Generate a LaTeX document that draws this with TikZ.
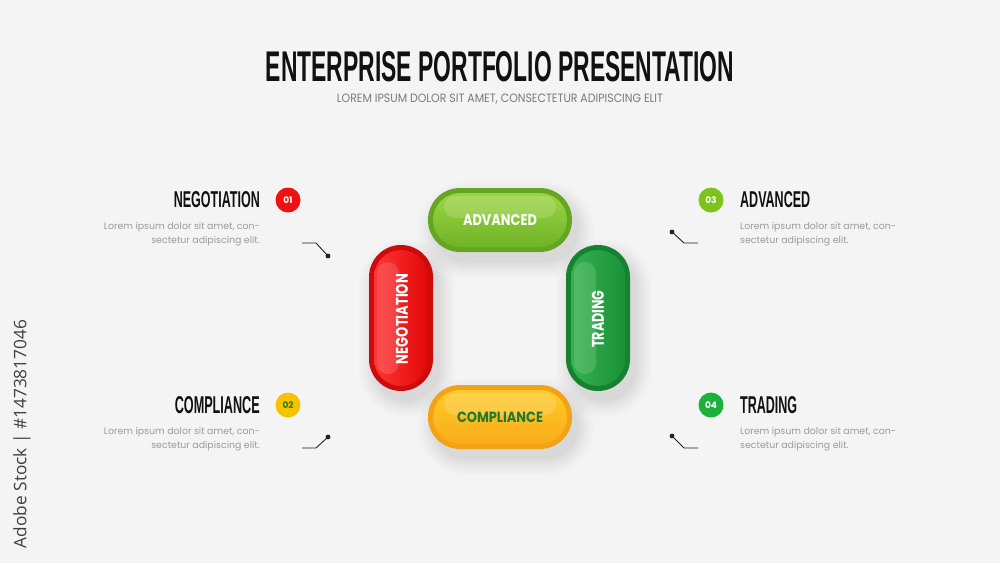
\documentclass[tikz,border=0pt]{standalone}
\usepackage{fontspec}
\usepackage{graphicx}
\setmainfont{Poppins}
\newfontfamily\headfont{Liberation Sans}
\newfontfamily\markfont{Open Sans}
\definecolor{bgc}{HTML}{F4F4F4}
\definecolor{subgray}{HTML}{7A7A7A}
\definecolor{bodygray}{HTML}{9A9A9A}
\definecolor{ink}{HTML}{111111}
\definecolor{conncol}{HTML}{222222}
% pill colours
\definecolor{advEdge}{HTML}{64A622}
\definecolor{advLight}{HTML}{9CD444}
\definecolor{advMain}{HTML}{6FB526}
\definecolor{trdEdge}{HTML}{168230}
\definecolor{trdLight}{HTML}{35B14E}
\definecolor{trdMain}{HTML}{1A9138}
\definecolor{negEdge}{HTML}{CC0C0C}
\definecolor{negLight}{HTML}{FF3535}
\definecolor{negMain}{HTML}{E20808}
\definecolor{cmpEdge}{HTML}{F2A214}
\definecolor{cmpLight}{HTML}{FFCB2A}
\definecolor{cmpMain}{HTML}{F9AC1A}
\definecolor{cmpText}{HTML}{1E7A2E}
% badge colours
\definecolor{badgeA}{HTML}{EE1111}
\definecolor{badgeB}{HTML}{F7C200}
\definecolor{badgeBtext}{HTML}{2F7A1A}
\definecolor{badgeC}{HTML}{7CC41C}
\definecolor{badgeD}{HTML}{1BB23C}
\newcommand\fitbox[3]{\resizebox{#1}{#2}{#3}}
% horizontal pill: cx cy edge light main
\newcommand\hpill[5]{%
  \foreach \s/\o in {16/0.012,13/0.014,10/0.016,7/0.018,4/0.02,1/0.022}{%
    \pgfmathsetmacro\rr{32+\s}%
    \fill[black,opacity=\o,rounded corners=\rr pt] (#1-72-\s+6,#2-32-\s+10) rectangle (#1+72+\s+6,#2+32+\s+10);}
  \fill[#3,rounded corners=32pt] (#1-72,#2-32) rectangle (#1+72,#2+32);
  \shade[top color=#4,bottom color=#5,rounded corners=27pt] (#1-67,#2-27) rectangle (#1+67,#2+27);
  \fill[white,opacity=0.16,rounded corners=11pt] (#1-56,#2-24) rectangle (#1+56,#2-2);
}
% vertical pill: cx cy edge light main
\newcommand\vpill[5]{%
  \foreach \s/\o in {16/0.012,13/0.014,10/0.016,7/0.018,4/0.02,1/0.022}{%
    \pgfmathsetmacro\rr{32+\s}%
    \fill[black,opacity=\o,rounded corners=\rr pt] (#1-32-\s+6,#2-73-\s+10) rectangle (#1+32+\s+6,#2+73+\s+10);}
  \fill[#3,rounded corners=32pt] (#1-32,#2-73) rectangle (#1+32,#2+73);
  \shade[left color=#4,right color=#5,rounded corners=27pt] (#1-27,#2-68) rectangle (#1+27,#2+68);
  \fill[white,opacity=0.14,rounded corners=11pt] (#1-24,#2-56) rectangle (#1-2,#2+56);
}
\tikzset{
  heading/.style={inner sep=0pt,text=ink,font=\headfont\bfseries},
  body/.style={inner sep=0pt,text=bodygray,font=\fontsize{9.4}{14}\selectfont},
  badge/.style={circle,inner sep=0pt,minimum size=25pt,text=white,font=\bfseries\fontsize{9}{10}\selectfont},
  pilltext/.style={inner sep=0pt,text=white,font=\bfseries},
  conn/.style={draw=conncol,line width=0.9pt},
  dot/.style={fill=conncol}
}
\begin{document}
\begin{tikzpicture}[x=1pt,y=-1pt]
\useasboundingbox (0,0) rectangle (1000,563);
\fill[bgc] (0,0) rectangle (1000,563);

% title
\node[heading,anchor=south] (title) at (500,82) {\fitbox{468pt}{30pt}{ENTERPRISE PORTFOLIO PRESENTATION}};
\node[inner sep=0pt,anchor=south,text=subgray] (subtitle) at (500,104) {\fitbox{326pt}{8.5pt}{LOREM IPSUM DOLOR SIT AMET, CONSECTETUR ADIPISCING ELIT}};

% side watermark
\node[rotate=90,inner sep=0pt,text=black!75,font=\markfont] (mark) at (22,434) {\resizebox{228pt}{!}{Adobe Stock | \#1473817046}};

% pills
\hpill{500}{220}{advEdge}{advLight}{advMain}
\vpill{598}{318}{trdEdge}{trdLight}{trdMain}
\vpill{401}{318}{negEdge}{negLight}{negMain}
\hpill{500}{417}{cmpEdge}{cmpLight}{cmpMain}

\node[pilltext] (padv) at (500,220) {\fitbox{74pt}{11pt}{ADVANCED}};
\node[pilltext,text=cmpText] (pcmp) at (500,417) {\fitbox{86pt}{10.5pt}{COMPLIANCE}};
\node[pilltext,rotate=90] (pneg) at (402,319) {\fitbox{90pt}{12pt}{NEGOTIATION}};
\node[pilltext,rotate=90] (ptrd) at (598,319) {\fitbox{57pt}{12pt}{TRADING}};

% left top: negotiation
\node[heading,anchor=south east] (h1) at (260,208) {\fitbox{86pt}{16pt}{NEGOTIATION}};
\node[badge,fill=badgeA] (b1) at (288,200) {01};
\node[body,anchor=north east,align=right] (t1) at (260,222) {Lorem ipsum dolor sit amet, con-\\sectetur adipiscing elit.};
\coordinate (l1a) at (302,243);
\coordinate (l1b) at (316,243);
\coordinate (l1c) at (328,256);
\draw[conn] (l1a) -- (l1b) -- (l1c);
\fill[dot] (l1c) circle (2.4);

% left bottom: compliance
\node[heading,anchor=south east] (h2) at (260,414) {\fitbox{85pt}{17pt}{COMPLIANCE}};
\node[badge,fill=badgeB,text=badgeBtext] (b2) at (288,405) {02};
\node[body,anchor=north east,align=right] (t2) at (260,427) {Lorem ipsum dolor sit amet, con-\\sectetur adipiscing elit.};
\coordinate (l2a) at (302,448);
\coordinate (l2b) at (316,448);
\coordinate (l2c) at (328,437);
\draw[conn] (l2a) -- (l2b) -- (l2c);
\fill[dot] (l2c) circle (2.4);

% right top: advanced
\node[heading,anchor=south west] (h3) at (740,208) {\fitbox{70pt}{16pt}{ADVANCED}};
\node[badge,fill=badgeC] (b3) at (711,200) {03};
\node[body,anchor=north west,align=left] (t3) at (740,222) {Lorem ipsum dolor sit amet, con-\\sectetur adipiscing elit.};
\coordinate (r1a) at (698,243);
\coordinate (r1b) at (684,243);
\coordinate (r1c) at (672,232);
\draw[conn] (r1a) -- (r1b) -- (r1c);
\fill[dot] (r1c) circle (2.4);

% right bottom: trading
\node[heading,anchor=south west] (h4) at (740,414) {\fitbox{57pt}{17pt}{TRADING}};
\node[badge,fill=badgeD] (b4) at (711,405) {04};
\node[body,anchor=north west,align=left] (t4) at (740,427) {Lorem ipsum dolor sit amet, con-\\sectetur adipiscing elit.};
\coordinate (r2a) at (698,448);
\coordinate (r2b) at (684,448);
\coordinate (r2c) at (672,436);
\draw[conn] (r2a) -- (r2b) -- (r2c);
\fill[dot] (r2c) circle (2.4);
\end{tikzpicture}
\end{document}
